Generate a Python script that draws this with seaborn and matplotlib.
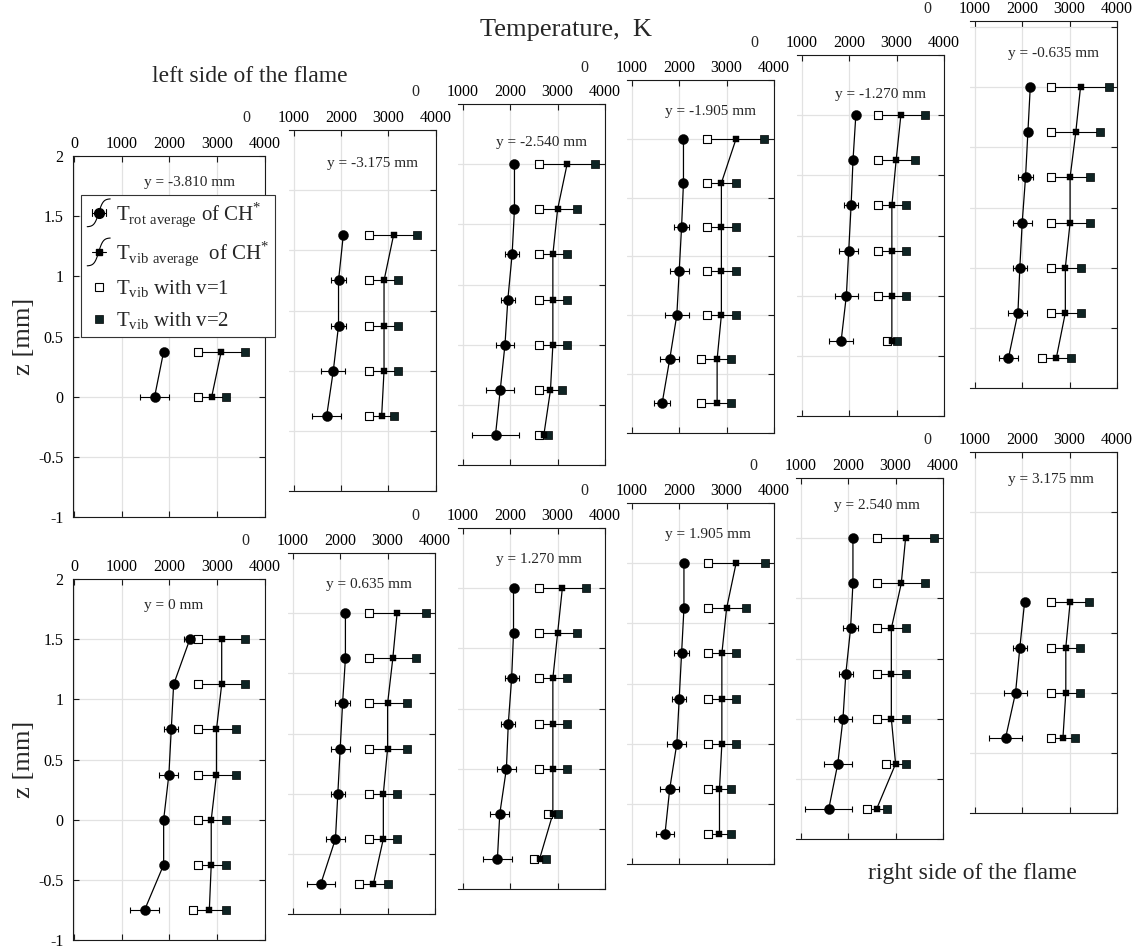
import numpy as np
import pandas as pd
import matplotlib
matplotlib.use("Agg")
import matplotlib.pyplot as plt
from matplotlib.lines import Line2D
from matplotlib.legend_handler import HandlerBase
import seaborn as sns

# ---------------------------------------------------------------- data
positions = ["-3.810", "-3.175", "-2.540", "-1.905", "-1.270", "-0.635",
             "0", "0.635", "1.270", "1.905", "2.540", "3.175"]

Z7 = [1.5, 1.125, 0.75, 0.375, 0.0, -0.375, -0.75]

z_levels = [
    [0.375, 0.0],
    [1.125, 0.75, 0.375, 0.0, -0.375],
    Z7,
    Z7,
    [1.5, 1.125, 0.75, 0.375, 0.0, -0.375],
    Z7,
    Z7,
    Z7,
    Z7,
    Z7,
    Z7,
    [0.75, 0.375, 0.0, -0.375],
]

# rotational temperature of CH* (K) and its uncertainty
t_rot = [
    [1880, 1690],
    [2050, 1950, 1950, 1840, 1700],
    [2090, 2090, 2040, 1950, 1890, 1790, 1690],
    [2090, 2090, 2050, 2000, 1950, 1800, 1640],
    [2140, 2080, 2040, 1990, 1940, 1830],
    [2170, 2120, 2070, 2000, 1950, 1910, 1710],
    [2430, 2090, 2040, 1990, 1880, 1880, 1480],
    [2110, 2110, 2050, 2000, 1950, 1900, 1590],
    [2070, 2070, 2030, 1960, 1920, 1780, 1730],
    [2100, 2100, 2050, 2000, 1950, 1800, 1700],
    [2100, 2100, 2050, 1950, 1890, 1780, 1590],
    [2050, 1950, 1860, 1650],
]
t_rot_err = [
    [50, 300],
    [0, 150, 150, 250, 300],
    [50, 50, 150, 150, 200, 300, 500],
    [50, 50, 150, 200, 250, 200, 170],
    [0, 50, 150, 200, 250, 250],
    [0, 50, 150, 200, 150, 200, 210],
    [120, 70, 150, 200, 60, 60, 300],
    [50, 50, 150, 200, 150, 200, 300],
    [50, 50, 150, 150, 200, 200, 300],
    [0, 50, 150, 150, 200, 200, 200],
    [50, 50, 150, 150, 200, 300, 500],
    [0, 150, 250, 350],
]

# vibrational temperatures (K): v=1, average, v=2
t_vib1 = [
    [2600, 2600],
    [2600, 2600, 2600, 2600, 2600],
    [2600, 2600, 2600, 2600, 2600, 2600, 2600],
    [2590, 2590, 2590, 2590, 2590, 2460, 2460],
    [2600, 2600, 2600, 2600, 2600, 2800],
    [2610, 2610, 2610, 2610, 2610, 2610, 2410],
    [2600, 2600, 2600, 2600, 2600, 2600, 2500],
    [2610, 2610, 2610, 2610, 2610, 2610, 2400],
    [2600, 2600, 2600, 2600, 2600, 2800, 2500],
    [2600, 2600, 2600, 2600, 2600, 2600, 2600],
    [2610, 2610, 2610, 2610, 2610, 2800, 2400],
    [2600, 2600, 2600, 2600],
]
t_vib_avg = [
    [3090, 2890],
    [3110, 2910, 2910, 2910, 2860],
    [3200, 3000, 2900, 2900, 2900, 2850, 2710],
    [3200, 2890, 2890, 2890, 2890, 2800, 2800],
    [3090, 2990, 2900, 2900, 2900, 2900],
    [3230, 3130, 3010, 3010, 2910, 2910, 2720],
    [3100, 3100, 2990, 2990, 2880, 2880, 2840],
    [3200, 3110, 3000, 3000, 2910, 2910, 2700],
    [3100, 3000, 2900, 2900, 2900, 2900, 2620],
    [3200, 3000, 2900, 2900, 2900, 2850, 2850],
    [3210, 3120, 2910, 2910, 2910, 3000, 2600],
    [3010, 2920, 2920, 2860],
]
t_vib2 = [
    [3600, 3190],
    [3600, 3200, 3200, 3200, 3110],
    [3790, 3400, 3200, 3200, 3200, 3100, 2800],
    [3790, 3200, 3200, 3200, 3200, 3090, 3090],
    [3600, 3390, 3200, 3200, 3200, 3000],
    [3830, 3640, 3420, 3420, 3230, 3230, 3020],
    [3600, 3600, 3400, 3400, 3200, 3200, 3200],
    [3810, 3600, 3410, 3410, 3200, 3200, 3000],
    [3600, 3400, 3200, 3200, 3200, 3000, 2750],
    [3800, 3400, 3200, 3200, 3200, 3100, 3100],
    [3810, 3620, 3210, 3210, 3210, 3210, 2810],
    [3410, 3220, 3220, 3110],
]

z_ticks = [-1, -0.5, 0, 0.5, 1, 1.5, 2]
z_tick_labels = ["-1", "-0.5", "0", "0.5", "1", "1.5", "2"]
t_ticks_full = [0, 1000, 2000, 3000, 4000]
t_ticks_crop = [1000, 2000, 3000, 4000]

# ---------------------------------------------------------------- style
sns.set_theme(style="white")
plt.rcParams["font.family"] = ["Liberation Serif", "DejaVu Serif"]
plt.rcParams["mathtext.fontset"] = "custom"
plt.rcParams["mathtext.rm"] = "Liberation Serif"
plt.rcParams["axes.unicode_minus"] = False

W, H = 1142, 949
fig = plt.figure(figsize=(W / 100, H / 100), dpi=100)
fig.patch.set_facecolor("white")

PX_K = 0.0474     # pixels per kelvin
PX_MM = 120.3     # pixels per mm of height
GRID = "#e2e2e2"
INK = "#1a1a1a"
V2_FACE = "#0f2424"

# panel frames: (full width?, right edge px, z=-1 px, z_low, z_high, title z)
frames = [
    (True, 265, 517, -1.0, 2.0, 1.78),
    (False, 435.7, 491, -1.0, 2.0, 1.72),
    (False, 605, 465, -1.0, 2.0, 1.68),
    (False, 774, 441, -0.93, 2.0, 1.73),
    (False, 944, 416, -1.0, 2.0, 1.67),
    (False, 1117, 388, -1.0, 2.05, 1.78),
    (True, 265, 940, -1.0, 2.0, 1.78),
    (False, 435, 914, -1.0, 2.0, 1.74),
    (False, 605, 889, -1.0, 2.0, 1.74),
    (False, 774, 864, -1.0, 2.0, 1.74),
    (False, 943, 839, -1.0, 2.0, 1.77),
    (False, 1117, 813, -1.0, 2.0, 1.77),
]


def make_axes(left, top, right, bottom):
    return fig.add_axes([left / W, 1 - bottom / H, (right - left) / W, (bottom - top) / H])


axes = []
for i, (full, right, zm1, zlo, zhi, tz) in enumerate(frames):
    if full:
        xlo, xhi = -25, 4010
        left = 73
    else:
        xlo, xhi = 900, 4000
        left = right - (xhi - xlo) * PX_K
    bottom = zm1 - (zlo + 1) * PX_MM
    top = zm1 - (zhi + 1) * PX_MM
    ax = make_axes(left, top, right, bottom)
    ax.set_xlim(xlo, xhi)
    ax.set_ylim(zlo, zhi)
    ax.set_facecolor("white")

    df = pd.DataFrame({
        "z": z_levels[i],
        "rot": t_rot[i],
        "rot_err": t_rot_err[i],
        "v1": t_vib1[i],
        "avg": t_vib_avg[i],
        "v2": t_vib2[i],
    })

    # uncertainty bars
    ax.errorbar(df["rot"], df["z"], xerr=df["rot_err"], fmt="none",
                ecolor="black", elinewidth=0.8, capsize=2.4, capthick=0.8, zorder=2)
    ax.hlines(df["z"], df["v1"], df["v2"], color="black", lw=0.8, zorder=2)

    # profiles along z
    sns.lineplot(data=df, x="rot", y="z", sort=False, estimator=None,
                 color="black", lw=0.9, ax=ax, zorder=3, legend=False)
    sns.lineplot(data=df, x="avg", y="z", sort=False, estimator=None,
                 color="black", lw=0.9, ax=ax, zorder=3, legend=False)

    # markers
    sns.scatterplot(data=df, x="v1", y="z", marker="s", s=26, color="white",
                    edgecolor="black", linewidth=0.8, ax=ax, zorder=5, legend=False)
    sns.scatterplot(data=df, x="v2", y="z", marker="s", s=28, color=V2_FACE,
                    edgecolor="black", linewidth=0.5, ax=ax, zorder=5, legend=False)
    sns.scatterplot(data=df, x="avg", y="z", marker="s", s=22, color="black",
                    edgecolor="black", linewidth=0.3, ax=ax, zorder=6, legend=False)
    sns.scatterplot(data=df, x="rot", y="z", marker="o", s=52, color="black",
                    edgecolor="black", linewidth=0.3, ax=ax, zorder=6, legend=False)

    ax.set_xlabel("")
    ax.set_ylabel("")

    # frame, grid and ticks
    ax.set_yticks(z_ticks)
    ax.grid(True, color=GRID, lw=0.9)
    ax.set_axisbelow(True)
    for s in ax.spines.values():
        s.set_color(INK)
        s.set_linewidth(0.8)
    ax.xaxis.tick_top()
    ax.tick_params(axis="both", direction="in", length=4, width=0.8, colors=INK,
                   top=True, bottom=True, right=True, left=full,
                   labeltop=True, labelbottom=False, labelright=False,
                   labelleft=full, labelsize=11.5, pad=3)
    ax.tick_params(axis="x", labelcolor="black")
    if full:
        ax.set_xticks(t_ticks_full)
        ax.set_xticklabels([str(t) for t in t_ticks_full])
        ax.set_yticklabels(z_tick_labels)
        ax.tick_params(axis="y", pad=7, labelcolor="black")
        ax.set_ylabel("z [mm]", fontsize=19)
        ax.yaxis.set_label_coords(-0.2, 0.5)
        title_x = 1460
    else:
        ax.set_xticks(t_ticks_crop)
        ax.set_xticklabels([str(t) for t in t_ticks_crop])
        ax.set_yticklabels([])
        ax.spines["left"].set_visible(False)
        ax.annotate("0", xy=(0, 1), xycoords=ax.get_xaxis_transform(),
                    xytext=(0, 3), textcoords="offset points", ha="center",
                    va="bottom", fontsize=11.5, annotation_clip=False)
        title_x = 1700
    ax.text(title_x, tz, f"y = {positions[i]} mm", fontsize=11,
            ha="left", va="center", zorder=7)
    axes.append(ax)


# ---------------------------------------------------------------- legend
class SwashHandler(HandlerBase):
    """Legend key: a swash curve carrying a marker with a horizontal bar."""

    def __init__(self, marker, ms, caps):
        super().__init__()
        self.marker = marker
        self.ms = ms
        self.caps = caps

    def create_artists(self, legend, orig_handle, xdescent, ydescent,
                       width, height, fontsize, trans):
        cx = -xdescent + width * 0.5
        cy = -ydescent + height * 0.5
        t = np.linspace(-1, 1, 60)
        xs = cx + t * width * 0.46
        ys = cy + np.tanh(2.6 * t) / np.tanh(2.6) * 10
        arts = [Line2D(xs, ys, color="black", lw=0.8, transform=trans)]
        half = width * 0.28
        arts.append(Line2D([cx - half, cx + half], [cy, cy], color="black",
                           lw=0.8, transform=trans))
        if self.caps:
            for x in (cx - half, cx + half):
                arts.append(Line2D([x, x], [cy - 2.4, cy + 2.4], color="black",
                                   lw=0.8, transform=trans))
        arts.append(Line2D([cx], [cy], marker=self.marker, ms=self.ms,
                           color="black", ls="none", transform=trans))
        return arts


h_rot = Line2D([], [], color="black")
h_avg = Line2D([], [], color="black")
h_v1 = Line2D([], [], marker="s", ls="none", mfc="white", mec="black", mew=0.8, ms=5.2)
h_v2 = Line2D([], [], marker="s", ls="none", mfc=V2_FACE, mec="black", mew=0.5, ms=5.4)

labels = [r"T$_{\mathregular{rot\ average}}$ of CH$^{*}$",
          r"T$_{\mathregular{vib\ average}}$  of CH$^{*}$",
          r"T$_{\mathregular{vib}}$ with v=1",
          r"T$_{\mathregular{vib}}$ with v=2"]

leg = axes[0].legend(
    [h_rot, h_avg, h_v1, h_v2], labels,
    handler_map={h_rot: SwashHandler("o", 7.0, True),
                 h_avg: SwashHandler("s", 4.6, False)},
    loc="upper left", bbox_to_anchor=(81 / W, 1 - 195 / H),
    bbox_transform=fig.transFigure, borderaxespad=0, fontsize=15,
    frameon=True, fancybox=False, framealpha=1, edgecolor="#333333",
    borderpad=0.25, labelspacing=0.5, handlelength=1.2, handletextpad=0.25)
leg.get_frame().set_linewidth(0.8)

# ---------------------------------------------------------------- annotations
fig.text(566 / W, 1 - 30 / H, "Temperature,  K", fontsize=19, ha="center", va="center")
fig.text(250 / W, 1 - 76 / H, "left side of the flame", fontsize=17, ha="center", va="center")
fig.text(972 / W, 1 - 873 / H, "right side of the flame", fontsize=17, ha="center", va="center")

fig.savefig("out.png", dpi=100, facecolor="white")
